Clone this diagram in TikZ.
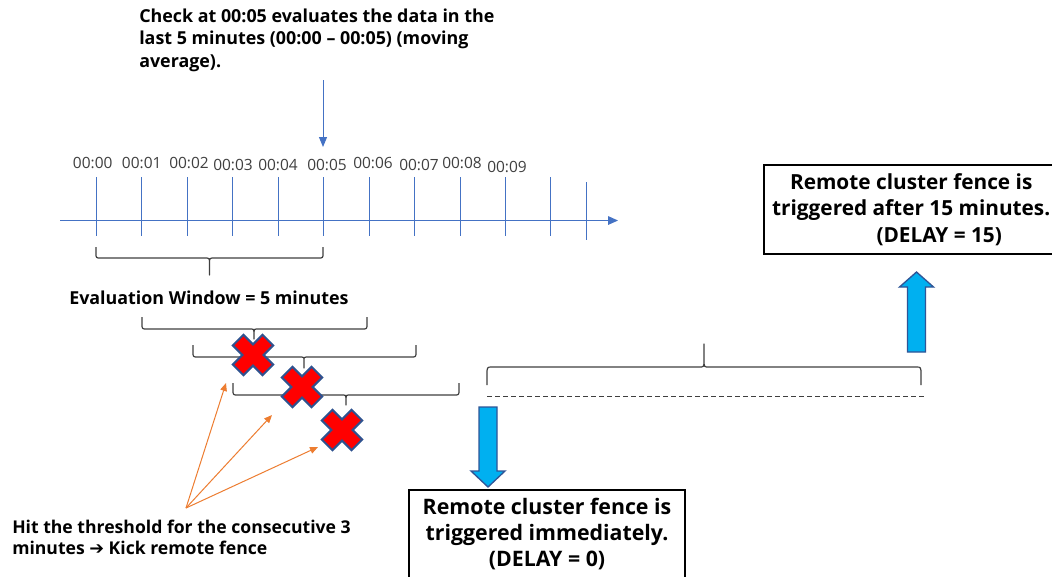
\documentclass[tikz,border=0pt]{standalone}
\usepackage{fontspec}
\setmainfont{Open Sans}
\newfontfamily\symfont{DejaVu Sans}
\usetikzlibrary{arrows.meta}

\definecolor{axisblue}{HTML}{4472C4}
\definecolor{labelgray}{HTML}{404040}
\definecolor{bracegray}{HTML}{3F3F3F}
\definecolor{hitorange}{HTML}{ED7D31}
\definecolor{markred}{HTML}{FF0000}
\definecolor{markedge}{HTML}{2F528F}
\definecolor{bigfill}{HTML}{00B0F0}
\definecolor{bigedge}{HTML}{2F5597}

\tikzset{
  axisline/.style={draw=axisblue, line width=0.75pt},
  timelabel/.style={text=labelgray, inner sep=0pt, font=\fontsize{11.6pt}{13pt}\selectfont},
  note/.style={inner sep=0pt, align=left, text=black, font=\bfseries\fontsize{13.4pt}{16.9pt}\selectfont},
  fencebox/.style={draw=black, line width=1.3pt, align=center, inner xsep=4pt, inner ysep=6pt,
    font=\bfseries\fontsize{16pt}{19.5pt}\selectfont},
  bracestroke/.style={draw=bracegray, line width=0.9pt, line join=round},
  hitarrow/.style={draw=hitorange, line width=0.75pt, -{Triangle[length=6pt, width=5pt]}},
  bigarrow/.style={fill=bigfill, draw=bigedge, line width=1pt, line join=miter},
  xmark/.pic={
    \filldraw[fill=markred, draw=markedge, line width=1.5pt, line join=miter, rotate=45]
      (7.5,21) -- (-7.5,21) -- (-7.5,7.5) -- (-21,7.5) -- (-21,-7.5) -- (-7.5,-7.5) -- (-7.5,-21)
      -- (7.5,-21) -- (7.5,-7.5) -- (21,-7.5) -- (21,7.5) -- (7.5,7.5) -- cycle;
  }
}

% curly bracket: left x, right x, y of the ends, y of the bar, x of the tip, y of the tip
\newcommand{\winbrace}[6]{%
  \pgfmathsetmacro\bkleg{#4+0.45*(#3-#4)}%
  \pgfmathsetmacro\bkstem{#4+0.3*(#6-#4)}%
  \draw[bracestroke] (#1,#3) -- (#1,\bkleg) .. controls (#1,#4) .. (#1+5,#4)
    -- (#5-5,#4) .. controls (#5,#4) .. (#5,\bkstem) -- (#5,#6)
    -- (#5,\bkstem) .. controls (#5,#4) .. (#5+5,#4)
    -- (#2-5,#4) .. controls (#2,#4) .. (#2,\bkleg) -- (#2,#3);
}

\begin{document}
\begin{tikzpicture}[x=0.75pt, y=-0.75pt]
\useasboundingbox[fill=white] (0,0) rectangle (1052,576);

% ---- time axis ----
\coordinate (axL) at (60,220.5);
\coordinate (axR) at (618,220.5);
\draw[axisline, -{Triangle[length=7.5pt, width=6.5pt]}] (axL) -- (axR);
\foreach \i in {0,...,10}
  \draw[axisline] (96.4+45.45*\i,177) -- ++(0,59);
\draw[axisline] (586.7,182) -- (586.7,240);

% minute labels
\node[timelabel] (t0) at (92.7,163) {00:00};
\node[timelabel] (t1) at (141.7,163) {00:01};
\node[timelabel] (t2) at (189,163) {00:02};
\node[timelabel] (t3) at (233,165) {00:03};
\node[timelabel] (t4) at (278,165) {00:04};
\node[timelabel] (t5) at (327,165) {00:05};
\node[timelabel] (t6) at (373,163) {00:06};
\node[timelabel] (t7) at (419,165) {00:07};
\node[timelabel] (t8) at (462,163) {00:08};
\node[timelabel] (t9) at (507,167) {00:09};

% ---- check at 00:05 ----
\node[note, anchor=west] (check) at (139,40)
  {Check at 00:05 evaluates the data in the\\
   last 5 minutes (00:00 -- 00:05) (moving\\
   average).};
\coordinate (chkA) at (323,80);
\coordinate (chkB) at (323,147);
\draw[axisline, -{Triangle[length=7.5pt, width=6pt]}] (chkA) -- (chkB);

% ---- evaluation windows ----
\winbrace{96}{323}{247}{258}{209.5}{275}
\node[note, anchor=west] (evalwin) at (69,298) {Evaluation Window = 5 minutes};

\winbrace{142}{367}{317}{329}{254}{339}
\winbrace{193}{416}{345}{357}{304}{368}
\winbrace{233}{459}{383}{395}{346}{405}

% threshold hits
\pic (hitA) at (253,355) {xmark};
\pic (hitB) at (302,387) {xmark};
\pic (hitC) at (342,430) {xmark};

% ---- explanation of the hits ----
\node[note, anchor=west, font=\bfseries\fontsize{13.2pt}{16pt}\selectfont] (hitnote) at (12,537.5)
  {Hit the threshold for the consecutive 3\\
   minutes {\symfont\mdseries ➔} Kick remote fence};
\coordinate (hitpt) at (186,508);
\coordinate (aimA) at (226,383);
\coordinate (aimB) at (272,415);
\coordinate (aimC) at (318,447);
\draw[hitarrow] (hitpt) -- (aimA);
\draw[hitarrow] (hitpt) -- (aimB);
\draw[hitarrow] (hitpt) -- (aimC);

% ---- delay period ----
\winbrace{487}{921}{385}{367}{704}{344}
\coordinate (dashL) at (487,396); \coordinate (dashR) at (924,396);
\draw[draw=bracegray, line width=0.75pt, dash pattern=on 3.75pt off 2.25pt] (dashL) -- (dashR);

% ---- outcomes ----
\node[fencebox, anchor=north, minimum width=207pt] (fenceNow) at (547,489)
  {Remote cluster fence is\\ triggered immediately.\\ (DELAY = 0)\\ \mbox{}};
\node[fencebox, anchor=west, minimum width=221pt, font=\bfseries\fontsize{15.6pt}{20pt}\selectfont]
  (fenceLate) at (763,209.5)
  {Remote cluster fence is\\ triggered after 15 minutes.\\ \hspace*{42pt}(DELAY = 15)};

% block arrows
\filldraw[bigarrow] (479,407) -- (497,407) -- (497,471) -- (505,471) -- (488,487)
  -- (471,471) -- (479,471) -- cycle;
\filldraw[bigarrow] (907.5,352) -- (925.5,352) -- (925.5,287) -- (933.5,287) -- (916.5,272)
  -- (899.5,287) -- (907.5,287) -- cycle;

\end{tikzpicture}
\end{document}
